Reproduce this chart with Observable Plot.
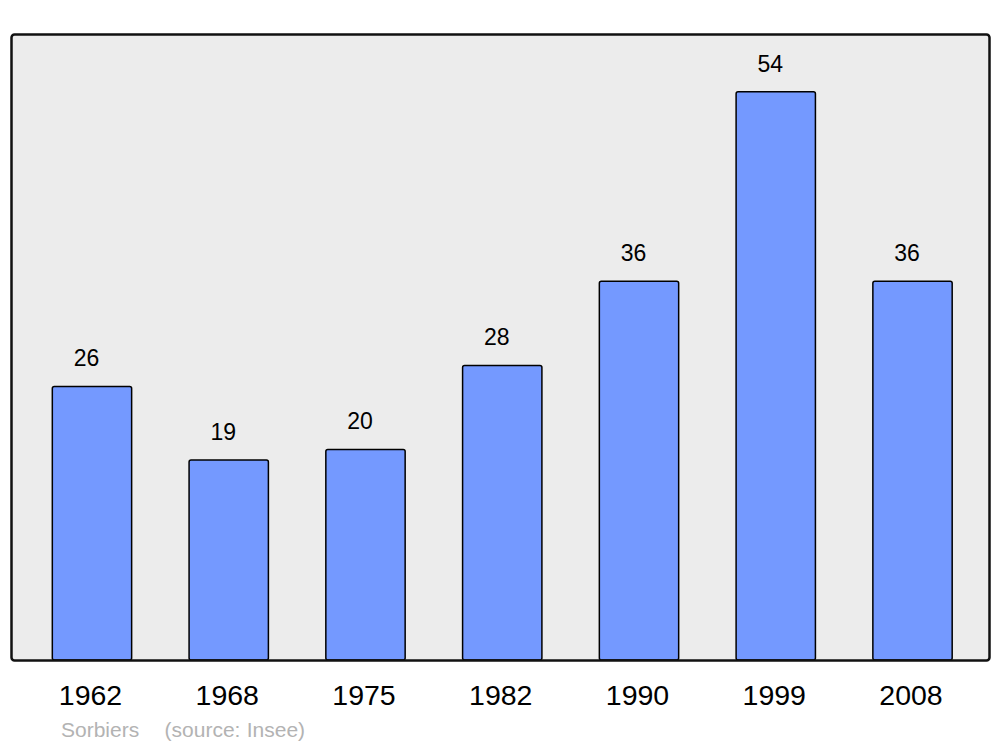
<!DOCTYPE html>
<html>
<head>
<meta charset="utf-8">
<script src="https://cdn.jsdelivr.net/npm/d3@7"></script>
<script src="https://cdn.jsdelivr.net/npm/@observablehq/plot@0.6"></script>
<style>
  html, body { margin: 0; padding: 0; background: #fff; }
  #wrap { position: relative; width: 1000px; height: 747px; font-family: "Liberation Sans", Arial, sans-serif; }
  #caption { position: absolute; left: 61px; top: 718px; font-size: 21px; color: #b3b3b3; white-space: pre; word-spacing: 0.5px; }
</style>
</head>
<body>
<div id="wrap"><div id="caption"></div></div>
<script>
const years = ["1962", "1968", "1975", "1982", "1990", "1999", "2008"];
const population = [26, 19, 20, 28, 36, 54, 36];
const captionText = "Sorbiers    (source: Insee)";

const data = years.map((y, i) => ({year: y, value: population[i]}));

const chart = Plot.plot({
  width: 1000,
  height: 747,
  marginLeft: 11,
  marginRight: 11,
  marginTop: 34,
  marginBottom: 87,
  style: {fontFamily: "'Liberation Sans', Arial, sans-serif", background: "transparent"},
  x: {domain: years, paddingInner: 0.42, paddingOuter: 0.21, insetLeft: 12.6, insetRight: 8.1, round: false, label: null},
  y: {domain: [0, 59.5], axis: null},
  marks: [
    Plot.frame({fill: "#ececec", stroke: "none", rx: 3}),
    Plot.barY(data, {x: "year", y: "value", fill: "#7499ff", stroke: "#000", strokeWidth: 1.5, rx: 2}),
    Plot.text(data, {x: "year", y: "value", text: d => String(d.value), dy: -28, dx: -6, fontSize: 23, fill: "#000"}),
    Plot.frame({fill: "none", stroke: "#111", strokeWidth: 2.5, rx: 3}),
    Plot.axisX({tickSize: 0, tickPadding: 24, fontSize: 28.5, dx: -2, color: "#000", label: null})
  ]
});

document.getElementById("wrap").prepend(chart);
document.getElementById("caption").textContent = captionText;
</script>
</body>
</html>
